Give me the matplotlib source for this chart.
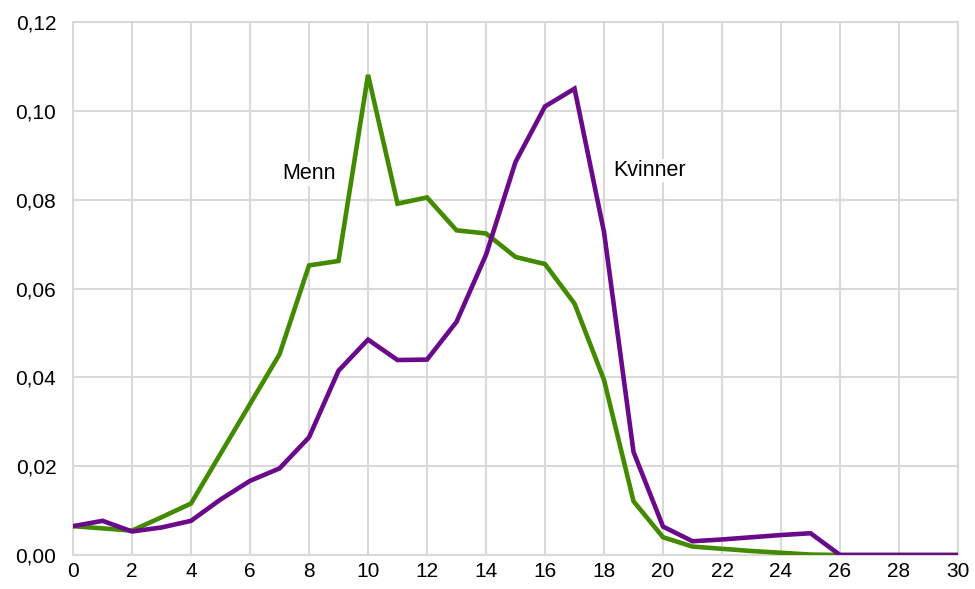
import matplotlib
matplotlib.use("Agg")
import matplotlib.pyplot as plt
from matplotlib.ticker import FuncFormatter, MultipleLocator

plt.rcParams['font.family'] = ['Liberation Sans', 'DejaVu Sans']

x = list(range(0, 31))
menn = [0.0065, 0.0060, 0.0055, 0.0085, 0.0116, 0.0228, 0.0340, 0.0452, 0.0652, 0.0662,
        0.1081, 0.0791, 0.0805, 0.0731, 0.0724, 0.0671, 0.0655, 0.0566, 0.0394, 0.0121,
        0.0040, 0.0019, 0.0014, 0.0009, 0.0005, 0.0001, 0.0, 0.0, 0.0, 0.0, 0.0]
kvinner = [0.0065, 0.0077, 0.0053, 0.0062, 0.0077, 0.0125, 0.0167, 0.0195, 0.0265, 0.0415,
           0.0485, 0.0439, 0.0440, 0.0525, 0.0676, 0.0885, 0.1010, 0.1050, 0.0727, 0.0232,
           0.0064, 0.0031, 0.0035, 0.0040, 0.0045, 0.0049, 0.0, 0.0, 0.0, 0.0, 0.0]

fig = plt.figure(figsize=(9.75, 5.89), dpi=100)
ax = fig.add_axes([0.0749, 0.0577, 0.9077, 0.9049])

green = '#428a00'
purple = '#6a0a8a'
ax.plot(x, menn, color=green, lw=3.3, zorder=3, solid_joinstyle='miter')
ax.plot(x, kvinner, color=purple, lw=3.3, zorder=3, solid_joinstyle='miter')

ax.set_xlim(0, 30)
ax.set_ylim(0, 0.12)
ax.xaxis.set_major_locator(MultipleLocator(2))
ax.yaxis.set_major_locator(MultipleLocator(0.02))
ax.yaxis.set_major_formatter(FuncFormatter(lambda v, p: f"{v:.2f}".replace('.', ',')))
ax.grid(True, which='major', color='#d9d9d9', lw=1.5, zorder=0)
ax.set_axisbelow(True)
for s in ax.spines.values():
    s.set_color('#d9d9d9')
    s.set_linewidth(1.5)
ax.tick_params(length=0, labelsize=15, colors='black')
ax.tick_params(axis='y', pad=12)
ax.tick_params(axis='x', pad=5)

ax.text(8.0, 0.0858, 'Menn', fontsize=15.5, ha='center', va='center',
        bbox=dict(facecolor='white', edgecolor='none', pad=1), zorder=4)
ax.text(19.55, 0.0866, 'Kvinner', fontsize=15.5, ha='center', va='center',
        bbox=dict(facecolor='white', edgecolor='none', pad=1), zorder=4)

fig.savefig('out.png', dpi=100)
